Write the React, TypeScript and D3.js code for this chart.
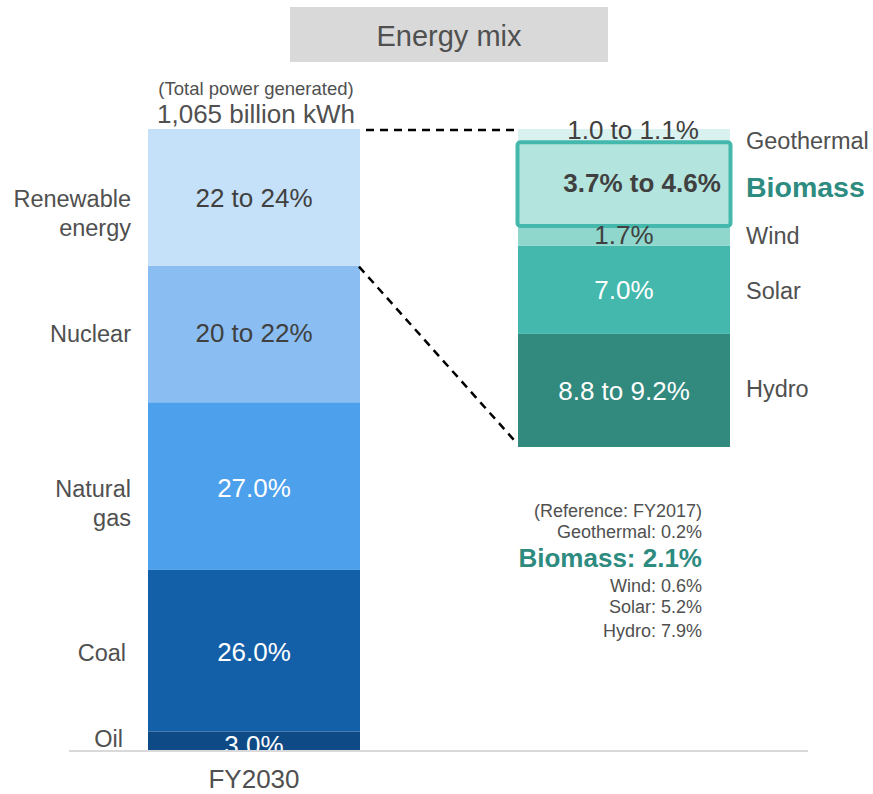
import React from "react";
import * as d3 from "d3";

// Left bar (FY2030 energy mix) — bottom to top
const leftCategories = ["Oil", "Coal", "Natural gas", "Nuclear", "Renewable energy"];
const leftValues = [3, 26, 27, 22, 22];
const leftLabels = ["3.0%", "26.0%", "27.0%", "20 to 22%", "22 to 24%"];
const leftColors = ["#0E4A85", "#135FA8", "#4DA0EC", "#8ABEF2", "#C5E0F9"];
const leftTextColors = ["#ffffff", "#ffffff", "#ffffff", "#404040", "#404040"];

// Right bar (renewable breakdown) — bottom to top
const rightCategories = ["Hydro", "Solar", "Wind", "Biomass", "Geothermal"];
const rightValues = [9.0, 7.0, 1.5, 6.7, 1.1];
const rightLabels = ["8.8 to 9.2%", "7.0%", "1.7%", "3.7% to 4.6%", "1.0 to 1.1%"];
const rightColors = ["#32897E", "#44B8AD", "#8FD7CC", "#B3E4DD", "#D9F2EF"];
const rightTextColors = ["#ffffff", "#ffffff", "#404040", "#404040", "#404040"];

// FY2017 reference
const refLines = ["Geothermal: 0.2%", "Biomass: 2.1%", "Wind: 0.6%", "Solar: 5.2%", "Hydro: 7.9%"];

const FONT = "'Liberation Sans', Arial, sans-serif";
const TEXT = "#505050";
const TEAL = "#2E8B80";

export default function App() {
  const W = 873, H = 794;
  const baseY = 750, topY = 129;
  const yL = d3.scaleLinear().domain([0, d3.sum(leftValues)]).range([baseY, topY]);
  const rBottom = 447;
  const yR = d3.scaleLinear().domain([0, d3.sum(rightValues)]).range([rBottom, topY]);
  const xL = d3.scaleBand().domain(["FY2030"]).range([148, 360]);
  const lx0 = xL("FY2030")!, lw = xL.bandwidth();
  const rx0 = 518, rw = 212;

  const leftStack = leftValues.map((v, i) => {
    const s = d3.sum(leftValues.slice(0, i));
    return { y0: yL(s), y1: yL(s + v) };
  });
  const rightStack = rightValues.map((v, i) => {
    const s = d3.sum(rightValues.slice(0, i));
    return { y0: yR(s), y1: yR(s + v) };
  });

  const leftLabelY = [747, 661, 497, 342, 207];
  const leftCatLines: string[][] = [["Oil"], ["Coal"], ["Natural", "gas"], ["Nuclear"], ["Renewable", "energy"]];
  const leftCatX = [123, 126, 131, 131, 131];
  const leftValY = [754, 661, 497, 342, 207];
  const rightValY = [400, 299, 244, 192, 139];
  const rightValX = [624, 624, 624, 642, 633];
  const rightCatY = [397, 299, 244, 197, 149];

  const bio = rightStack[3];
  const renew = leftStack[4];

  return (
    <svg width={W} height={H} style={{ position: "absolute", left: 0, top: 0, fontFamily: FONT }}>
      <rect x={0} y={0} width={W} height={H} fill="#ffffff" />
      {/* Title */}
      <rect x={290} y={7} width={318} height={55} fill="#D9D9D9" />
      <text x={449} y={46} textAnchor="middle" fontSize={29} fill={TEXT}>Energy mix</text>

      {/* Total */}
      <text x={256} y={95} textAnchor="middle" fontSize={18.5} fill={TEXT}>(Total power generated)</text>
      <text x={256} y={123} textAnchor="middle" fontSize={26} fill={TEXT}>1,065 billion kWh</text>

      {/* Left bar */}
      {leftStack.map((s, i) => (
        <rect key={leftCategories[i]} x={lx0} y={s.y1} width={lw} height={s.y0 - s.y1} fill={leftColors[i]} />
      ))}
      {leftLabels.map((l, i) => (
        <text key={l} x={lx0 + lw / 2} y={leftValY[i]} textAnchor="middle" fontSize={26} fill={leftTextColors[i]}>{l}</text>
      ))}
      {leftCatLines.map((lines, i) =>
        lines.map((ln, j) => (
          <text key={ln} x={leftCatX[i]} y={leftLabelY[i] + j * 29} textAnchor="end" fontSize={23.5} fill={TEXT}>{ln}</text>
        ))
      )}

      {/* Baseline */}
      <line x1={69} x2={808} y1={baseY + 1} y2={baseY + 1} stroke="#D9D9D9" strokeWidth={2} />
      <text x={lx0 + lw / 2} y={788} textAnchor="middle" fontSize={26} fill={TEXT}>FY2030</text>

      {/* Connector dashed lines */}
      <line x1={366} y1={renew.y1 + 1} x2={515} y2={renew.y1 + 1} stroke="#000" strokeWidth={2.5} strokeDasharray="8 6" />
      <line x1={359} y1={renew.y0 + 1} x2={514} y2={rBottom - 7} stroke="#000" strokeWidth={2.5} strokeDasharray="8 6" />

      {/* Right bar */}
      {rightStack.map((s, i) => (
        <rect key={rightCategories[i]} x={rx0} y={s.y1} width={rw} height={s.y0 - s.y1} fill={rightColors[i]} />
      ))}
      <rect x={rx0 - 0.5} y={bio.y1 - 0.5} width={rw + 1} height={bio.y0 - bio.y1 - 0.5} rx={3}
        fill="none" stroke="#44B8AC" strokeWidth={4} />
      {rightLabels.map((l, i) => (
        <text key={l} x={rightValX[i]} y={rightValY[i]} textAnchor="middle"
          fontSize={26} fontWeight={i === 3 ? "bold" : "normal"} fill={rightTextColors[i]}>{l}</text>
      ))}
      {rightCategories.map((c, i) => (
        <text key={c} x={746} y={rightCatY[i]} fontSize={i === 3 ? 28.5 : 23.5}
          fontWeight={i === 3 ? "bold" : "normal"} fill={i === 3 ? TEAL : TEXT}>{c}</text>
      ))}

      {/* Reference FY2017 */}
      <text x={702} y={517} textAnchor="end" fontSize={18} fill={TEXT}>(Reference: FY2017)</text>
      {refLines.map((t, i) => {
        const ys = [538, 567, 592, 613, 637];
        const bold = i === 1;
        return (
          <text key={t} x={702} y={ys[i]} textAnchor="end" fontSize={bold ? 26 : 18}
            fontWeight={bold ? "bold" : "normal"} fill={bold ? TEAL : TEXT}>{t}</text>
        );
      })}
    </svg>
  );
}
